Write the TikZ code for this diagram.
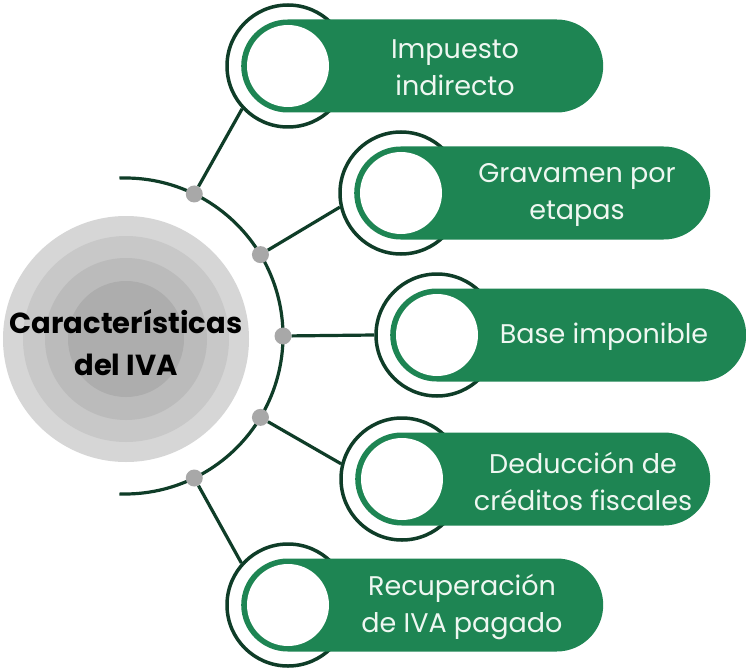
\documentclass[tikz,border=0pt]{standalone}
\usepackage{fontspec}
\setmainfont{Poppins}
\definecolor{pillgreen}{HTML}{1E8553}
\definecolor{ringdark}{HTML}{0F3D28}
\definecolor{dotgray}{HTML}{A8A8A8}
\definecolor{gA}{HTML}{D6D6D6}
\definecolor{gB}{HTML}{C8C8C8}
\definecolor{gC}{HTML}{BBBBBB}
\definecolor{gD}{HTML}{ADADAD}
\definecolor{pilltext}{HTML}{EEF7F1}
\tikzset{
  disc/.style={circle, draw=none, inner sep=0pt, minimum size=#1},
  ringc/.style={circle, draw=ringdark, line width=3.5pt, inner sep=0pt, minimum size=122pt},
  pillbox/.style={rectangle, rounded corners=46.5pt, fill=pillgreen, draw=none, inner sep=0pt, minimum height=93pt, minimum width=#1, anchor=west},
  hole/.style={circle, fill=white, draw=none, inner sep=0pt, minimum size=82pt},
  pilllabel/.style={text=pilltext, align=center, font=\fontsize{27}{37}\selectfont, inner sep=0pt},
  dotnode/.style={circle, fill=dotgray, draw=none, inner sep=0pt, minimum size=17pt},
  conn/.style={draw=ringdark, line width=3.2pt},
}
\begin{document}
\begin{tikzpicture}[x=1pt,y=-1pt]
\useasboundingbox[fill=white] (0,0) rectangle (746,671);
% central disc
\node[disc=246pt, fill=gA] (core) at (126,339) {};
\node[disc=206pt, fill=gB] (coreb) at (126,339) {};
\node[disc=162pt, fill=gC] (corec) at (126,339) {};
\node[disc=116pt, fill=gD] (cored) at (126,339) {};
\node[align=center, font=\bfseries\fontsize{29}{42}\selectfont, text=black, inner sep=0pt] (title) at (126,343) {Características\\del IVA};
% arc
\coordinate (A) at (125,336);
\draw[conn] (A) ++(-92:158) arc[start angle=-92, end angle=92, radius=158];
\path (A) ++(-64:158) node[dotnode] (d1) {};
\path (A) ++(-31:158) node[dotnode] (d2) {};
\path (A) ++(0:158) node[dotnode] (d3) {};
\path (A) ++(31:158) node[dotnode] (d4) {};
\path (A) ++(64:158) node[dotnode] (d5) {};
% rings
\node[ringc] (r1) at (288,66) {};
\node[ringc] (r2) at (401,193) {};
\node[ringc] (r3) at (437,335) {};
\node[ringc] (r4) at (402,479) {};
\node[ringc] (r5) at (288,605) {};
% pills
\node[pillbox=362pt] (p1) at (241,66) {};
\node[pillbox=356pt] (p2) at (354,193) {};
\node[pillbox=356pt] (p3) at (390,335) {};
\node[pillbox=355pt] (p4) at (355,479) {};
\node[pillbox=362pt] (p5) at (241,605) {};
% holes
\node[hole] (h1) at (288,66) {};
\node[hole] (h2) at (401,193) {};
\node[hole] (h3) at (437,335) {};
\node[hole] (h4) at (402,479) {};
\node[hole] (h5) at (288,605) {};
% labels
\node[pilllabel] (t1) at (455,68) {Impuesto\\indirecto};
\node[pilllabel] (t2) at (577,195) {Gravamen por\\etapas};
\node[pilllabel] (t3) at (604,337) {Base imponible};
\node[pilllabel] (t4) at (583,481) {Deducción de\\créditos fiscales};
\node[pilllabel] (t5) at (462,607) {Recuperación\\de IVA pagado};
% connectors
\draw[conn] (d1) -- (r1.223);
\draw[conn] (d2) -- (r2.193);
\draw[conn] (d3) -- (r3.180);
\draw[conn] (d4) -- (r4.166);
\draw[conn] (d5) -- (r5.138);
\end{tikzpicture}
\end{document}
